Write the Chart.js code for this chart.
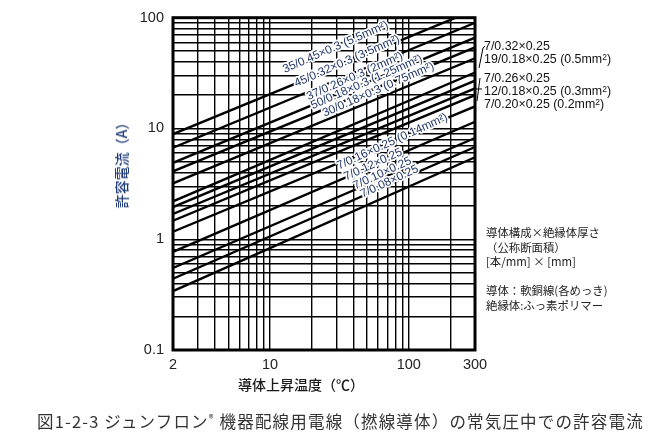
<!DOCTYPE html>
<html lang="ja">
<head>
<meta charset="utf-8">
<script src="https://cdn.jsdelivr.net/npm/chart.js@4.4.1/dist/chart.umd.min.js"></script>
<style>
  html, body { margin: 0; padding: 0; background: #fff; }
  #wrap { position: relative; width: 648px; height: 434px; overflow: hidden; }
  #wrap canvas { position: absolute; left: 0; top: 0; }
  .jp { position: absolute; font-family: "Noto Sans CJK JP", sans-serif; white-space: nowrap; }
  #ytitle { left: 121px; top: 162px; font-size: 14px; font-weight: 500; color: #1e3a78; transform: translate(-50%, -50%) rotate(-90deg); }
  #xtitle { left: 301px; top: 374px; font-size: 14px; font-weight: 500; color: #1a1a1a; transform: translateX(-50%); }
  #notes { left: 486px; top: 225px; font-size: 11.4px; line-height: 14.5px; color: #222; }
  #caption { left: 37px; top: 409px; font-size: 16.5px; color: #333; }
  #caption sup { font-size: 10px; }
  #rightLabels { position: absolute; left: 484px; top: 41px; font-family: "Liberation Sans", Arial, sans-serif; font-size: 12.4px; line-height: 11px; color: #111; white-space: nowrap; }
</style>
</head>
<body>
<div id="wrap">
  <canvas id="chart" width="648" height="434"></canvas>
  <div id="ytitle" class="jp">許容電流（A）</div>
  <div id="xtitle" class="jp">導体上昇温度（℃）</div>
  <div id="rightLabels"></div>
  <div id="notes" class="jp">導体構成×絶縁体厚さ<br>（公称断面積）<br>[本/mm] × [mm]<br><br>導体：軟銅線(各めっき)<br>絶縁体:ふっ素ポリマー</div>
  <div id="caption" class="jp">図1-2-3  ジュンフロン<sup>®</sup> 機器配線用電線（撚線導体）の常気圧中での許容電流</div>
</div>
<script>
// 導体構成×絶縁体厚さ（公称断面積）
const wireNames = [
  '35/0.45×0.3 (5.5mm²)',
  '45/0.32×0.3 (3.5mm²)',
  '37/0.26×0.3 (2mm²)',
  '50/0.18×0.3 (1.25mm²)',
  '30/0.18×0.3 (0.75mm²)',
  '7/0.32×0.25',
  '19/0.18×0.25 (0.5mm²)',
  '7/0.26×0.25',
  '12/0.18×0.25 (0.3mm²)',
  '7/0.20×0.25 (0.2mm²)',
  '7/0.16×0.25 (0.14mm²)',
  '7/0.12×0.25',
  '7/0.10×0.25',
  '7/0.08×0.25'
];

// 導体上昇温度 (℃) の両端
const tempRange = [2, 300];
// 許容電流 (A) : 2℃ と 300℃ で読んだ値
const currentAt2 = [8.9, 6.7, 4.9, 4.1, 3.2, 2.2, 1.95, 1.69, 1.47, 1.17, 0.77, 0.55, 0.44, 0.34];
const currentAt300 = [118, 90, 66, 54, 43, 32, 27, 23, 20, 15.8, 11.5, 8.2, 6.8, 5.5];

// 目盛り
const xTickLabels = [2, 10, 100, 300];
const yTickLabels = [0.1, 1, 10, 100];
const xGrid = [2, 3, 4, 5, 6, 7, 8, 9, 10, 20, 30, 40, 50, 60, 70, 80, 90, 100, 200, 300];
const yGrid = [0.1, 0.2, 0.3, 0.4, 0.5, 0.6, 0.7, 0.8, 0.9, 1, 2, 3, 4, 5, 6, 7, 8, 9, 10, 20, 30, 40, 50, 60, 70, 80, 90, 100];

// 線の上に書くラベル (at = 書き始める温度, lift = 線からの浮かせ量)
const inlineLabels = [
  { name: '35/0.45×0.3 (5.5mm²)', at: 14, lift: 14 },
  { name: '45/0.32×0.3 (3.5mm²)', at: 16.4, lift: 9 },
  { name: '37/0.26×0.3 (2mm²)', at: 19.7, lift: 6 },
  { name: '50/0.18×0.3 (1.25mm²)', at: 20.9, lift: 4.5 },
  { name: '30/0.18×0.3 (0.75mm²)', at: 25.3, lift: 3.5 },
  { name: '7/0.16×0.25 (0.14mm²)', at: 33.6, lift: 10 },
  { name: '7/0.12×0.25', at: 38.3, lift: 12 },
  { name: '7/0.10×0.25', at: 43.8, lift: 9 },
  { name: '7/0.08×0.25', at: 49.2, lift: 8.5 }
];
// 右側に書くラベル
const rightNames = ['7/0.32×0.25', '19/0.18×0.25 (0.5mm²)', '', '7/0.26×0.25', '12/0.18×0.25 (0.3mm²)', '7/0.20×0.25 (0.2mm²)'];

document.getElementById('rightLabels').innerHTML = rightNames
  .map(t => t === '' ? '<div style="height:8px"></div>' : '<div>' + t.replace('²', '<span style="font-size:8.5px;vertical-align:3px">2</span>') + '</div>')
  .join('');

// キャプションを幅に合わせる
const cap = document.getElementById('caption');
const capChars = cap.textContent.length;
cap.style.letterSpacing = ((608 - cap.getBoundingClientRect().width) / capChars) + 'px';

const datasets = wireNames.map((name, i) => ({
  label: name,
  data: [
    { x: tempRange[0], y: currentAt2[i] },
    { x: tempRange[1], y: currentAt300[i] }
  ],
  borderColor: '#000',
  borderWidth: 2.4,
  pointRadius: 0,
  tension: 0
}));

// 線ラベル
const lineLabelPlugin = {
  id: 'lineLabels',
  afterDatasetsDraw(chart) {
    const { ctx, scales: { x, y } } = chart;
    ctx.save();
    ctx.font = '11.8px "Liberation Sans", Arial, sans-serif';
    ctx.textBaseline = 'alphabetic';
    inlineLabels.forEach(l => {
      const i = wireNames.indexOf(l.name);
      const x0 = x.getPixelForValue(tempRange[0]);
      const y0 = y.getPixelForValue(currentAt2[i]);
      const x1 = x.getPixelForValue(tempRange[1]);
      const y1 = y.getPixelForValue(currentAt300[i]);
      const ang = Math.atan2(y1 - y0, x1 - x0) - 0.02;
      const px = x.getPixelForValue(l.at);
      const py = y0 + (px - x0) * (y1 - y0) / (x1 - x0);
      ctx.save();
      ctx.translate(px, py);
      ctx.rotate(ang);
      ctx.lineJoin = 'round';
      ctx.strokeStyle = '#fff';
      ctx.lineWidth = 3.5;
      ctx.strokeText(l.name, 0, -l.lift);
      ctx.fillStyle = '#1f3566';
      ctx.fillText(l.name, 0, -l.lift);
      ctx.restore();
    });
    ctx.restore();
  },
  afterDraw(chart) {
    const { ctx, chartArea: a } = chart;
    ctx.save();
    ctx.strokeStyle = '#000';
    ctx.lineWidth = 3;
    ctx.strokeRect(a.left, a.top, a.right - a.left, a.bottom - a.top);
    // 右ラベルへの引き出し線
    ctx.lineWidth = 1;
    ctx.beginPath();
    ctx.moveTo(479, 68); ctx.lineTo(483, 48); ctx.lineTo(485, 46);
    ctx.moveTo(477, 101); ctx.lineTo(480, 78);
    ctx.moveTo(476, 89); ctx.lineTo(482, 89);
    ctx.stroke();
    ctx.restore();
  }
};

const tickFont = { family: '"Liberation Sans", Arial, sans-serif', size: 14.5 };

new Chart(document.getElementById('chart'), {
  type: 'line',
  data: { datasets },
  options: {
    responsive: false,
    animation: false,
    devicePixelRatio: 1,
    layout: { padding: { left: 0, right: 173, top: 8, bottom: 0 } },
    plugins: { legend: { display: false }, tooltip: { enabled: false } },
    scales: {
      x: {
        type: 'logarithmic',
        min: 2,
        max: 300,
        afterBuildTicks: s => { s.ticks = xGrid.map(v => ({ value: v })); },
        afterFit: s => { s.height = 84; },
        ticks: {
          autoSkip: false,
          maxRotation: 0,
          padding: 6,
          color: '#222',
          font: tickFont,
          callback: v => xTickLabels.includes(v) ? String(v) : ''
        },
        grid: { color: '#000', lineWidth: 1.4, drawTicks: false },
        border: { display: false }
      },
      y: {
        type: 'logarithmic',
        min: 0.1,
        max: 100,
        afterBuildTicks: s => { s.ticks = yGrid.map(v => ({ value: v })); },
        afterFit: s => { s.width = 173; },
        ticks: {
          autoSkip: false,
          padding: 9,
          color: '#222',
          font: tickFont,
          callback: v => yTickLabels.includes(v) ? String(v) : ''
        },
        grid: { color: '#000', lineWidth: 1.4, drawTicks: false },
        border: { display: false }
      }
    }
  },
  plugins: [lineLabelPlugin]
});
</script>
</body>
</html>
